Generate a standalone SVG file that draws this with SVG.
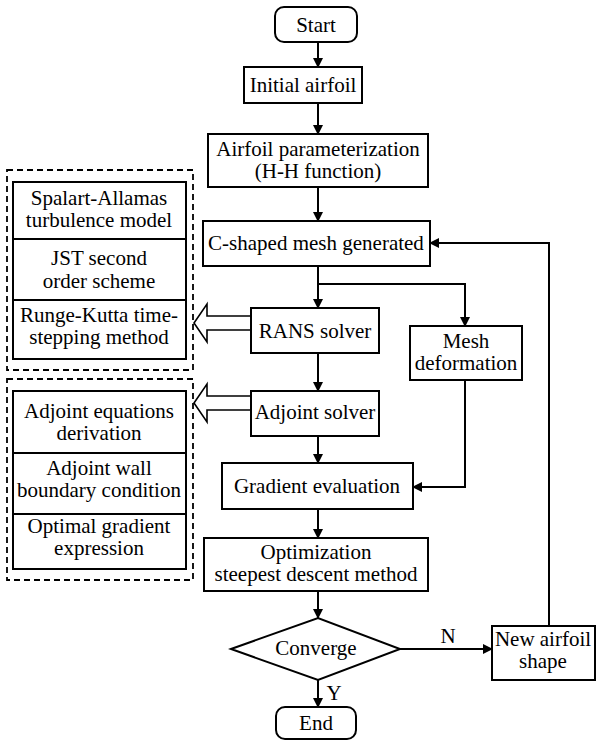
<svg xmlns="http://www.w3.org/2000/svg" width="599" height="743" viewBox="0 0 599 743">
<style>
.b{fill:#fff;stroke:#000;stroke-width:2}
text{font-family:'Liberation Serif','Times New Roman',Times,serif;font-size:21px;fill:#000;text-anchor:middle}
.c{fill:none;stroke:#000;stroke-width:2}
.d{fill:none;stroke:#000;stroke-width:1.8;stroke-dasharray:6,4}
.h{fill:#fff;stroke:#000;stroke-width:1.6}
</style>
<defs>
<marker id="a" markerWidth="10" markerHeight="10" refX="9" refY="5" orient="auto" markerUnits="userSpaceOnUse" viewBox="0 0 10 10">
<path d="M0,0 L10,5 L0,10 Z" fill="#000"/>
</marker>
</defs>
<g id="connectors">
<line class="c" x1="318" y1="42" x2="318" y2="67" marker-end="url(#a)"/>
<line class="c" x1="318" y1="103" x2="318" y2="134" marker-end="url(#a)"/>
<line class="c" x1="318" y1="187" x2="318" y2="221" marker-end="url(#a)"/>
<line class="c" x1="318" y1="266" x2="318" y2="308" marker-end="url(#a)"/>
<polyline class="c" points="318,284 465,284 465,326" marker-end="url(#a)"/>
<line class="c" x1="318" y1="353" x2="318" y2="391" marker-end="url(#a)"/>
<line class="c" x1="318" y1="436" x2="318" y2="463" marker-end="url(#a)"/>
<polyline class="c" points="465,380 465,487 413,487" marker-end="url(#a)"/>
<line class="c" x1="318" y1="509" x2="318" y2="538" marker-end="url(#a)"/>
<line class="c" x1="318" y1="591" x2="318" y2="618" marker-end="url(#a)"/>
<line class="c" x1="400" y1="649" x2="492" y2="649" marker-end="url(#a)"/>
<line class="c" x1="318" y1="680" x2="318" y2="707" marker-end="url(#a)"/>
<polyline class="c" points="549,626 549,243 430,243" marker-end="url(#a)"/>
<path class="h" d="M251,316 L207,316 L207,304 L194,323 L207,342 L207,330 L251,330"/>
<path class="h" d="M251,396 L207,396 L207,384 L194,403 L207,422 L207,410 L251,410"/>
<text x="448" y="643">N</text>
<text x="334" y="700">Y</text>
</g>
<g id="start"><rect class="b" x="275" y="7" width="82" height="35" rx="9"/><text x="316" y="32">Start</text></g>
<g id="initial"><rect class="b" x="244" y="67" width="118" height="36"/><text x="303" y="92">Initial airfoil</text></g>
<g id="param"><rect class="b" x="208" y="134" width="220" height="53"/><text x="318" y="156">Airfoil parameterization</text><text x="318" y="178">(H-H function)</text></g>
<g id="mesh"><rect class="b" x="203" y="221" width="227" height="45"/><text x="316" y="250">C-shaped mesh generated</text></g>
<g id="rans"><rect class="b" x="251" y="308" width="128" height="45"/><text x="315" y="338">RANS solver</text></g>
<g id="meshdef"><rect class="b" x="410" y="326" width="112" height="54"/><text x="466" y="348">Mesh</text><text x="466" y="370">deformation</text></g>
<g id="adjoint"><rect class="b" x="251" y="391" width="128" height="45"/><text x="315" y="419">Adjoint solver</text></g>
<g id="gradient"><rect class="b" x="222" y="463" width="191" height="46"/><text x="317" y="493">Gradient evaluation</text></g>
<g id="optim"><rect class="b" x="204" y="538" width="224" height="53"/><text x="316" y="559">Optimization</text><text x="316" y="581">steepest descent method</text></g>
<g id="converge"><polygon class="b" points="231,649 318,618 400,649 318,680"/><text x="316" y="655">Converge</text></g>
<g id="newshape"><rect class="b" x="492" y="626" width="103" height="54"/><text x="543" y="646">New airfoil</text><text x="543" y="668">shape</text></g>
<g id="end"><rect class="b" x="276" y="707" width="80" height="32" rx="9"/><text x="316" y="730">End</text></g>
<g id="group1">
<rect class="d" x="7" y="170" width="186" height="200"/>
<rect class="b" x="13" y="182" width="173" height="177"/>
<line class="c" x1="13" y1="239" x2="186" y2="239"/>
<line class="c" x1="13" y1="300" x2="186" y2="300"/>
<text x="99" y="205">Spalart-Allamas</text><text x="99" y="227">turbulence model</text>
<text x="99" y="265">JST second</text><text x="99" y="288">order scheme</text>
<text x="99" y="322">Runge-Kutta time-</text><text x="99" y="344">stepping method</text>
</g>
<g id="group2">
<rect class="d" x="7" y="379" width="186" height="201"/>
<rect class="b" x="13" y="391" width="173" height="178"/>
<line class="c" x1="13" y1="453" x2="186" y2="453"/>
<line class="c" x1="13" y1="514" x2="186" y2="514"/>
<text x="99" y="418">Adjoint equations</text><text x="99" y="440">derivation</text>
<text x="99" y="475">Adjoint wall</text><text x="99" y="497">boundary condition</text>
<text x="99" y="533">Optimal gradient</text><text x="99" y="555">expression</text>
</g>
</svg>
